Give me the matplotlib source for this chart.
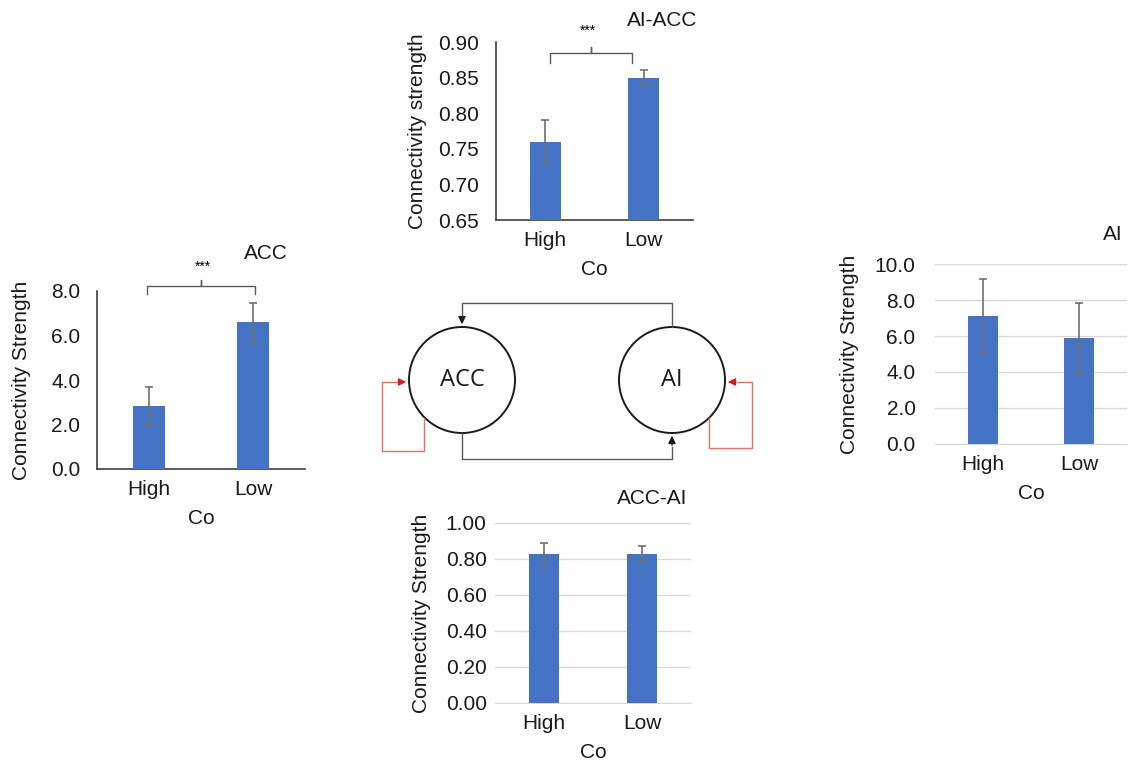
import matplotlib
matplotlib.use('Agg')
import matplotlib.pyplot as plt
from matplotlib.patches import Circle, FancyArrowPatch

plt.rcParams['font.family'] = ['Liberation Sans', 'DejaVu Sans']

groups = ['High', 'Low']

acc_vals = [2.85, 6.6]
acc_err = [0.85, 0.88]

ai_acc_vals = [0.76, 0.85]
ai_acc_err = [0.03, 0.01]

ai_vals = [7.1, 5.9]
ai_err = [2.05, 1.95]

acc_ai_vals = [0.83, 0.83]
acc_ai_err = [0.06, 0.04]

W, H = 1128, 767
BLUE = '#4472C4'
GRID = '#d9d9d9'
SPINE = '#404040'
FS = 15


def box(x0, x1, y0, y1):
    # pixel box (top-left origin) -> figure fraction
    return [x0 / W, 1 - y1 / H, (x1 - x0) / W, (y1 - y0) / H]


def bar_panel(rect, vals, err, ylim, ticks, fmt, ylabel, title, title_xy,
              grid, ylabel_off, tick_pad):
    ax = fig.add_axes(box(*rect))
    x = range(len(groups))
    ax.bar(x, vals, width=0.31, color=BLUE, zorder=3)
    ax.errorbar(x, vals, yerr=err, fmt='none', ecolor='#6f6f6f',
                elinewidth=1.2, capsize=3, capthick=1.2, zorder=4)
    ax.set_xlim(-0.5, 1.5)
    ax.set_ylim(*ylim)
    ax.set_yticks(ticks)
    ax.set_yticklabels([fmt.format(t) for t in ticks], fontsize=FS)
    ax.set_xticks(list(x))
    ax.set_xticklabels(groups, fontsize=FS)
    ax.tick_params(axis='both', length=0, colors='#1a1a1a')
    ax.tick_params(axis='y', pad=tick_pad)
    ax.tick_params(axis='x', pad=8)
    for s in ['top', 'right']:
        ax.spines[s].set_visible(False)
    if grid:
        ax.spines['left'].set_visible(False)
        ax.spines['bottom'].set_color(GRID)
        ax.yaxis.grid(True, color=GRID, linewidth=1, zorder=0)
    else:
        ax.spines['left'].set_color(SPINE)
        ax.spines['bottom'].set_color(SPINE)
        ax.spines['left'].set_linewidth(1.2)
        ax.spines['bottom'].set_linewidth(1.2)
    ax.set_xlabel('Co', fontsize=FS, labelpad=7, color='#1a1a1a')
    ax.set_ylabel(ylabel, fontsize=FS, color='#1a1a1a')
    ax.yaxis.set_label_coords(-ylabel_off / (rect[1] - rect[0]), 0.5)
    fig.text(title_xy[0] / W, 1 - title_xy[1] / H, title, fontsize=FS,
             ha='center', va='center', color='#1a1a1a')
    return ax


def bracket(ax, x0, x1, y, drop, rise):
    xm = (x0 + x1) / 2
    ax.plot([x0, x0, xm, xm, xm, x1, x1],
            [y - drop, y, y, y + rise, y, y, y - drop],
            color='#595959', lw=1, clip_on=False, zorder=5)


fig = plt.figure(figsize=(W / 100, H / 100), dpi=100)

# ACC panel (left)
ax1 = bar_panel((97, 305, 291, 469), acc_vals, acc_err, (0, 8), [0, 2, 4, 6, 8],
                '{:.1f}', 'Connectivity Strength', 'ACC', (266, 253),
                False, 66, 12)
bracket(ax1, -0.02, 1.02, 8.22, 0.36, 0.28)
fig.text(203 / W, 1 - 267 / H, '***', fontsize=10, ha='center', va='center')

# AI-ACC panel (top)
ax2 = bar_panel((496, 693, 42, 220), ai_acc_vals, ai_acc_err, (0.65, 0.90),
                [0.65, 0.70, 0.75, 0.80, 0.85, 0.90], '{:.2f}',
                'Connectivity strength', 'AI-ACC', (662, 20), False, 69, 12)
bracket(ax2, 0.05, 0.88, 0.8845, 0.014, 0.0085)
fig.text(588 / W, 1 - 31 / H, '***', fontsize=10, ha='center', va='center')

# AI panel (right)
bar_panel((935, 1127, 264, 444), ai_vals, ai_err, (0, 10), [0, 2, 4, 6, 8, 10],
          '{:.1f}', 'Connectivity Strength', 'AI', (1113, 234), True, 76, 14)

# ACC-AI panel (bottom)
bar_panel((495, 691, 523, 703), acc_ai_vals, acc_ai_err, (0, 1.0),
          [0, 0.2, 0.4, 0.6, 0.8, 1.0], '{:.2f}', 'Connectivity Strength',
          'ACC-AI', (652, 498), True, 64, 6)

# network diagram in pixel coordinates
d = fig.add_axes([0, 0, 1, 1], zorder=-1)
d.set_xlim(0, W)
d.set_ylim(H, 0)
d.axis('off')

r = 53
acc_c = (462, 380)
ai_c = (672, 380)
for c, name in [(acc_c, 'ACC'), (ai_c, 'AI')]:
    d.add_patch(Circle(c, r, fill=False, ec='#1a1a1a', lw=1.4))
    d.text(c[0], c[1], name, fontsize=17, ha='center', va='center',
           family=['Open Sans', 'DejaVu Sans'], color='#1a1a1a')

gray = '#595959'
# AI -> ACC (top)
d.plot([ai_c[0], ai_c[0], acc_c[0], acc_c[0]],
       [ai_c[1] - r, 303, 303, 315], color=gray, lw=1)
d.add_patch(FancyArrowPatch((acc_c[0], 314), (acc_c[0], acc_c[1] - r),
                            arrowstyle='-|>', mutation_scale=11, color='#1a1a1a', lw=1))
# ACC -> AI (bottom)
d.plot([acc_c[0], acc_c[0], ai_c[0], ai_c[0]],
       [acc_c[1] + r, 459, 459, 447], color=gray, lw=1)
d.add_patch(FancyArrowPatch((ai_c[0], 448), (ai_c[0], ai_c[1] + r),
                            arrowstyle='-|>', mutation_scale=11, color='#1a1a1a', lw=1))

red_line = '#dd7463'
red_head = '#cc2020'
# ACC self loop
d.plot([424, 424, 382, 382, 396], [418, 451, 451, 382, 382], color=red_line, lw=1)
d.add_patch(FancyArrowPatch((395, 382), (409, 382), arrowstyle='-|>',
                            mutation_scale=11, color=red_head, lw=1))
# AI self loop
d.plot([709, 709, 752, 752, 738], [418, 448, 448, 382, 382], color=red_line, lw=1)
d.add_patch(FancyArrowPatch((739, 382), (725, 382), arrowstyle='-|>',
                            mutation_scale=11, color=red_head, lw=1))

fig.savefig('out.png', dpi=100)
